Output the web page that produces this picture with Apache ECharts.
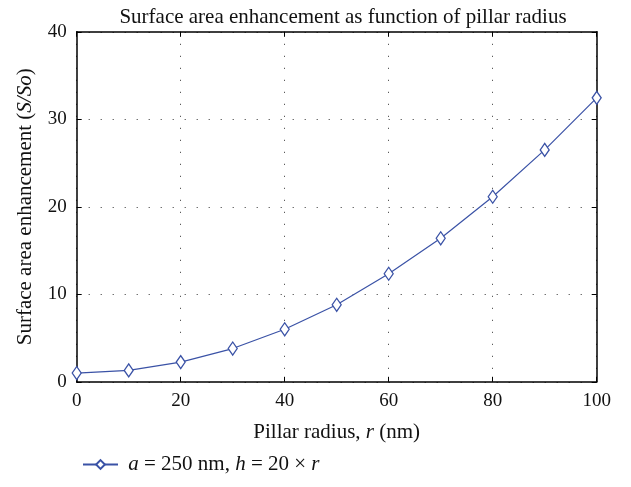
<!DOCTYPE html>
<html><head><meta charset="utf-8">
<script src="https://cdn.jsdelivr.net/npm/echarts@6/dist/echarts.min.js"></script>
<style>html,body{margin:0;padding:0;background:#fff}#c{width:631px;height:487px}</style>
</head><body><div id="c"></div>
<script>
const radius = [0, 10, 20, 30, 40, 50, 60, 70, 80, 90, 100];
const enhancement = [1.0, 1.3, 2.25, 3.8, 6.0, 8.8, 12.35, 16.4, 21.15, 26.5, 32.45];
const xTicks = [0, 20, 40, 60, 80, 100];
const yTicks = [0, 10, 20, 30, 40];
const seriesName = 'a = 250 nm, h = 20 × r';

const FONT = '"Liberation Serif", "DejaVu Serif", serif';
const COLOR = '#3a52a6';
const BIG = 21, TICK = 19;
const chart = echarts.init(document.getElementById('c'));
const grid = {left: 76.7, right: 34.3, top: 31.8, bottom: 105.2};
const split = {show: true, lineStyle: {color: '#333', type: [1, 11], width: 1}};
const rich = {
  n: {fontFamily: FONT, fontSize: BIG, color: '#111'},
  i: {fontFamily: FONT, fontSize: BIG, fontStyle: 'italic', color: '#111'}
};
chart.setOption({
  animation: false,
  backgroundColor: '#fff',
  title: {
    text: 'Surface area enhancement as function of pillar radius',
    left: 338, top: 2, textAlign: 'center',
    textStyle: {fontFamily: FONT, fontSize: BIG, fontWeight: 'normal', color: '#111'}
  },
  grid: grid,
  legend: {
    left: 77, top: 449, itemWidth: 35, itemHeight: 11,
    data: [seriesName],
    formatter: function () {
      return '{n| }{i|a}{n| = 250 nm, }{i|h}{n| = 20 × }{i|r}';
    },
    textStyle: {fontFamily: FONT, fontSize: BIG, color: '#111', rich: rich}
  },
  xAxis: [{
    type: 'value', min: xTicks[0], max: xTicks[xTicks.length - 1], interval: 20,
    position: 'bottom',
    name: '{n|Pillar radius, }{i|r}{n| (nm)}', nameLocation: 'middle', nameGap: 40,
    nameTextStyle: {rich: rich},
    axisLine: {show: true, onZero: false, lineStyle: {color: '#000', width: 1.5}},
    axisTick: {show: true, inside: true, length: 5, lineStyle: {color: '#000'}},
    axisLabel: {fontFamily: FONT, fontSize: TICK, color: '#111', margin: 10},
    splitLine: split
  }, {
    type: 'value', min: xTicks[0], max: xTicks[xTicks.length - 1], interval: 20,
    position: 'top',
    axisLine: {show: true, onZero: false, lineStyle: {color: '#000', width: 1.5}},
    axisTick: {show: true, inside: true, length: 5, lineStyle: {color: '#000'}},
    axisLabel: {show: false}, splitLine: {show: false}
  }],
  yAxis: [{
    type: 'value', min: yTicks[0], max: yTicks[yTicks.length - 1], interval: 10,
    position: 'left',
    name: '{n|Surface area enhancement (}{i|S/So}{n|)}', nameLocation: 'middle', nameGap: 41,
    nameRotate: 90,
    nameTextStyle: {rich: rich},
    axisLine: {show: true, onZero: false, lineStyle: {color: '#000', width: 1.5}},
    axisTick: {show: true, inside: true, length: 5, lineStyle: {color: '#000'}},
    axisLabel: {fontFamily: FONT, fontSize: TICK, color: '#111', margin: 10},
    splitLine: split
  }, {
    type: 'value', min: yTicks[0], max: yTicks[yTicks.length - 1], interval: 10,
    position: 'right',
    axisLine: {show: true, onZero: false, lineStyle: {color: '#000', width: 1.5}},
    axisTick: {show: true, inside: true, length: 5, lineStyle: {color: '#000'}},
    axisLabel: {show: false}, splitLine: {show: false}
  }],
  series: [{
    name: seriesName, type: 'line',
    data: radius.map((r, i) => [r, enhancement[i]]),
    symbol: 'diamond', symbolSize: [9, 13], showAllSymbol: true,
    lineStyle: {color: COLOR, width: 1.2},
    itemStyle: {color: '#fff', borderColor: COLOR, borderWidth: 1.3},
    clip: false
  }]
});
</script></body></html>
